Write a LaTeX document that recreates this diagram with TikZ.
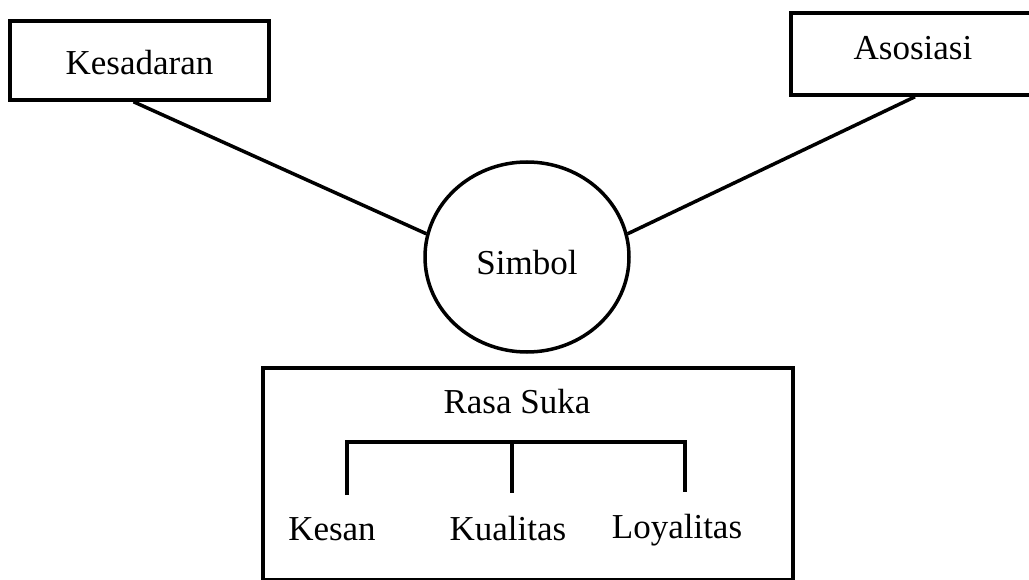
\documentclass[tikz,border=0pt]{standalone}
\usepackage{fontspec}
\setmainfont{Liberation Serif}
\usetikzlibrary{shapes.geometric}
\begin{document}
\begin{tikzpicture}[x=1pt,y=-1pt,
  line width=3.5pt,
  every node/.style={font=\fontsize{35}{42}\selectfont, inner sep=0pt},
  boxnode/.style={draw, rectangle, line width=3.5pt},
  lbl/.style={anchor=base},
  conn/.style={line width=3.5pt}]
\useasboundingbox (0,0) rectangle (1029,580);
\begin{scope}
\clip (0,0) rectangle (1029,580);
\node[boxnode, minimum width=259pt, minimum height=79pt, text height=29pt, text depth=0pt] (kes) at (139.5,60.5) {Kesadaran};
\node[boxnode, minimum width=244pt, minimum height=82pt, text height=23pt, text depth=11pt] (aso) at (913,54) {Asosiasi};
\node[draw, ellipse, line width=3.5pt, minimum width=204pt, minimum height=190pt, text height=36pt, text depth=0pt] (sim) at (527,257) {Simbol};
\node[boxnode, minimum width=530pt, minimum height=212pt] (rs) at (528,474) {};
\end{scope}
\node[lbl] (rasa) at (517,413) {Rasa Suka};
\node[lbl] (kesan) at (332,540) {Kesan};
\node[lbl] (kual) at (508,540) {Kualitas};
\node[lbl] (loy) at (677,538) {Loyalitas};
\coordinate (b1) at (347,495);
\coordinate (b2) at (512,493);
\coordinate (b3) at (685,492);
\draw[conn] ([xshift=-6pt]kes.south) -- (sim.167.8);
\draw[conn] ([xshift=2pt]aso.south) -- (sim.13.9);
\draw[conn, line cap=butt] (b1) -- (b1 |- 0,442) -- (b3 |- 0,442) -- (b3);
\draw[conn] (b2 |- 0,442) -- (b2);
\end{tikzpicture}
\end{document}
